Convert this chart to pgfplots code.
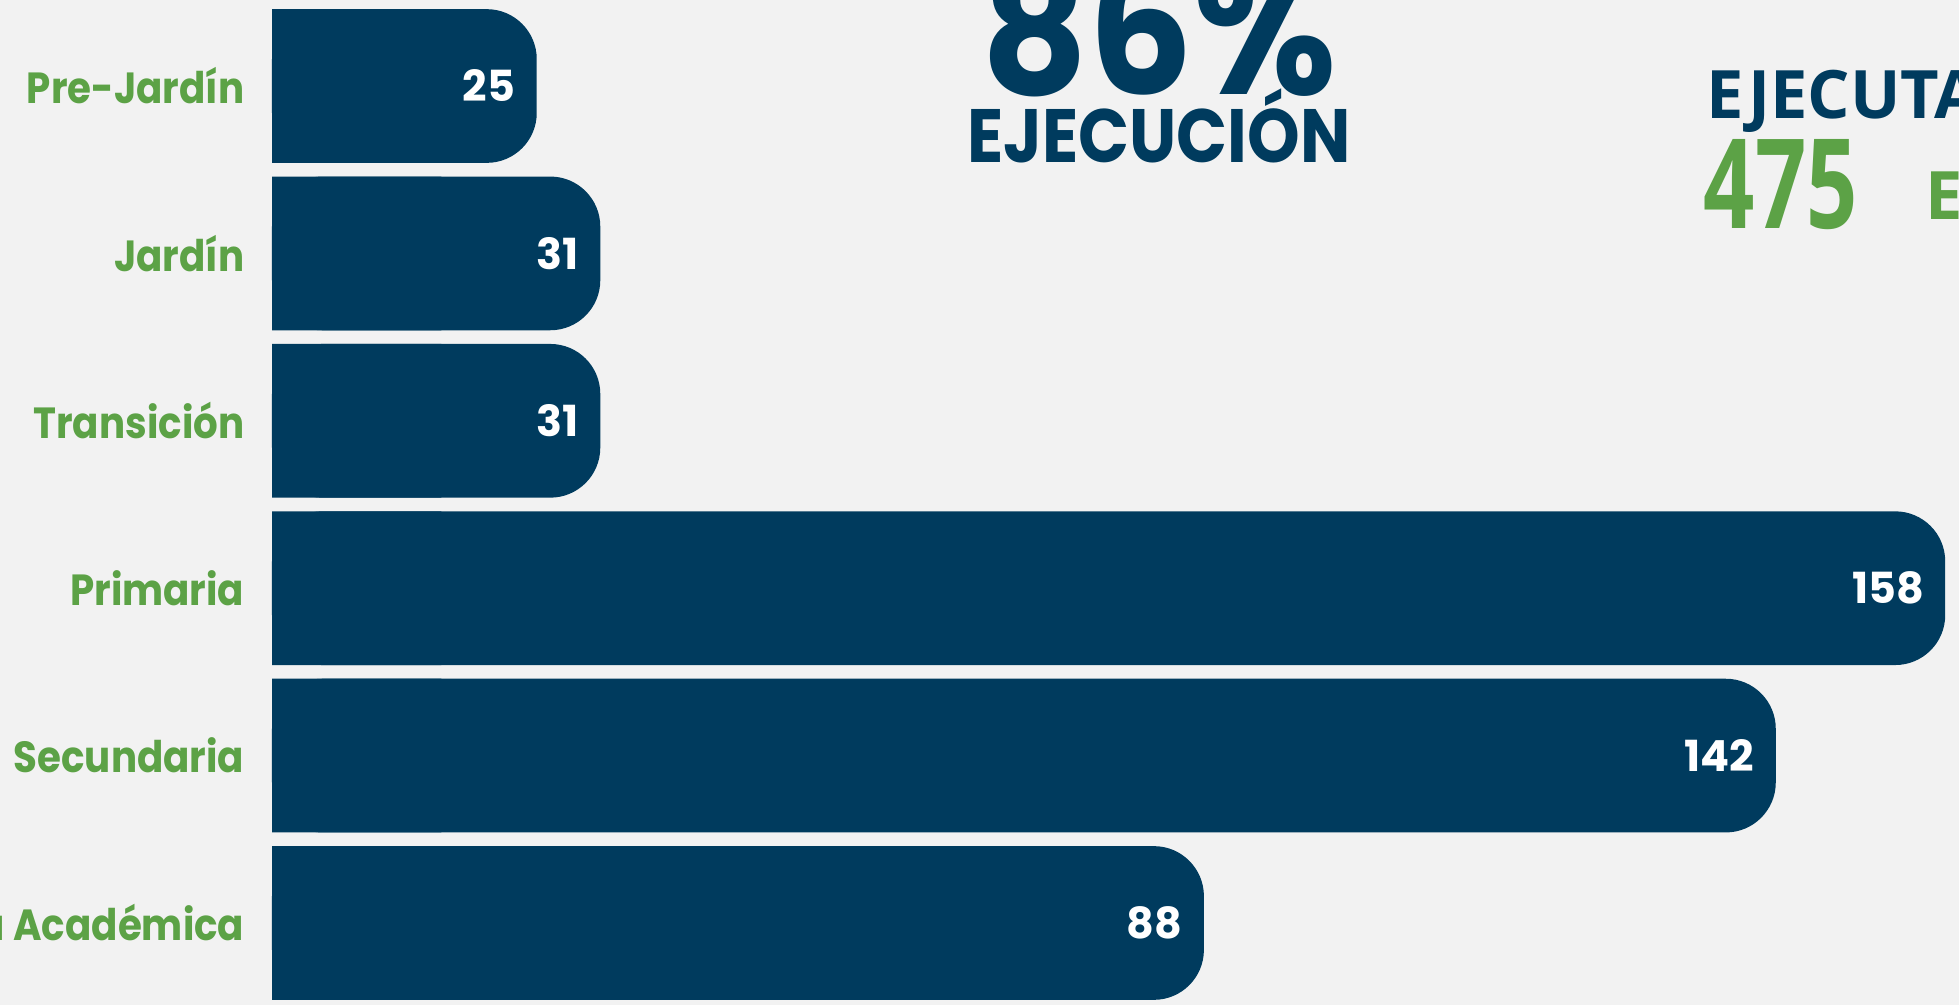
\documentclass[border=0pt]{standalone}
\usepackage{pgfplots}
\usepackage{pgfplotstable}
\pgfplotsset{compat=1.18}
\usepackage{graphicx}
\usepackage{fontspec}
\setmainfont{Poppins}
\newfontfamily\opensans{Open Sans}
\definecolor{navy}{RGB}{0,59,94}
\definecolor{leaf}{RGB}{92,162,70}
\definecolor{bg}{RGB}{242,242,242}
\newcommand{\nar}[1]{\scalebox{0.89}[1]{#1}}

\pgfplotstableread{
v   y
25  0
31  1
31  2
158 3
142 4
88  5
}\datatable

\pgfplotsset{barframe/.style={
    at={(2.72cm,-0.023cm)}, anchor=north west,
    scale only axis, height=10.044cm,
    xmin=0, ymin=-0.5, ymax=5.5, y dir=reverse}}

\begin{document}
\begin{tikzpicture}
\path[use as bounding box] (0,0) rectangle (19.59,-10.05);
\clip (0,0) rectangle (19.59,-10.05);
\fill[bg] (0,0) rectangle (19.59,-10.05);

% bars with rounded ends
\begin{axis}[barframe, width=16.944cm, xmax=160,
    axis x line=none, axis y line*=left,
    y axis line style={draw=none},
    ytick={0,...,5},
    yticklabels={\nar{Pre-Jardín}, \nar{Jardín}, \nar{Transición}, \nar{Primaria},
        \nar{Secundaria}, \nar{Media Académica}},
    major tick length=0pt,
    yticklabel style={font=\bfseries\fontsize{12.4}{12.4}\selectfont, text=leaf,
        inner sep=0pt, xshift=-2.7mm},
    point meta=x,
    nodes near coords={\pgfmathprintnumber\pgfplotspointmeta},
    nodes near coords style={font=\bfseries\fontsize{12.2}{12.2}\selectfont,
        text=white, anchor=east, xshift=-0.9mm,
        /pgf/number format/assume math mode=true},
    clip=false,
]
\addplot[xbar, bar width=1.537cm, fill=navy, draw=none, rounded corners=5mm]
    table[x=v, y=y] {\datatable};
\end{axis}

% same bars, square, seen only over the first 16 units: squares the left ends
\begin{axis}[barframe, width=1.6944cm, xmax=16, hide axis]
\addplot[xbar, bar width=1.537cm, fill=navy, draw=none]
    table[x=v, y=y] {\datatable};
\end{axis}

\node[anchor=base, inner sep=0pt, text=navy, font=\bfseries\fontsize{51}{51}\selectfont] at (11.59,-0.95) {\scalebox{0.92}[1]{86\%}};
\node[anchor=base, inner sep=0pt, text=navy, font=\bfseries\fontsize{21.5}{21.5}\selectfont] at (11.59,-1.63) {\scalebox{0.886}[1]{EJECUCIÓN}};
\node[anchor=base west, inner sep=0pt, text=navy, font=\opensans\bfseries\fontsize{19}{19}\selectfont] at (17.06,-1.19) {EJECUTADO};
\node[anchor=base west, inner sep=0pt, text=leaf, font=\opensans\bfseries\fontsize{35.5}{35.5}\selectfont] at (17.03,-2.29) {\scalebox{0.72}[1]{475}};
\node[anchor=base west, inner sep=0pt, text=leaf, font=\opensans\bfseries\fontsize{19}{19}\selectfont] at (19.25,-2.20) {ESTUDIANTES};
\end{tikzpicture}
\end{document}
